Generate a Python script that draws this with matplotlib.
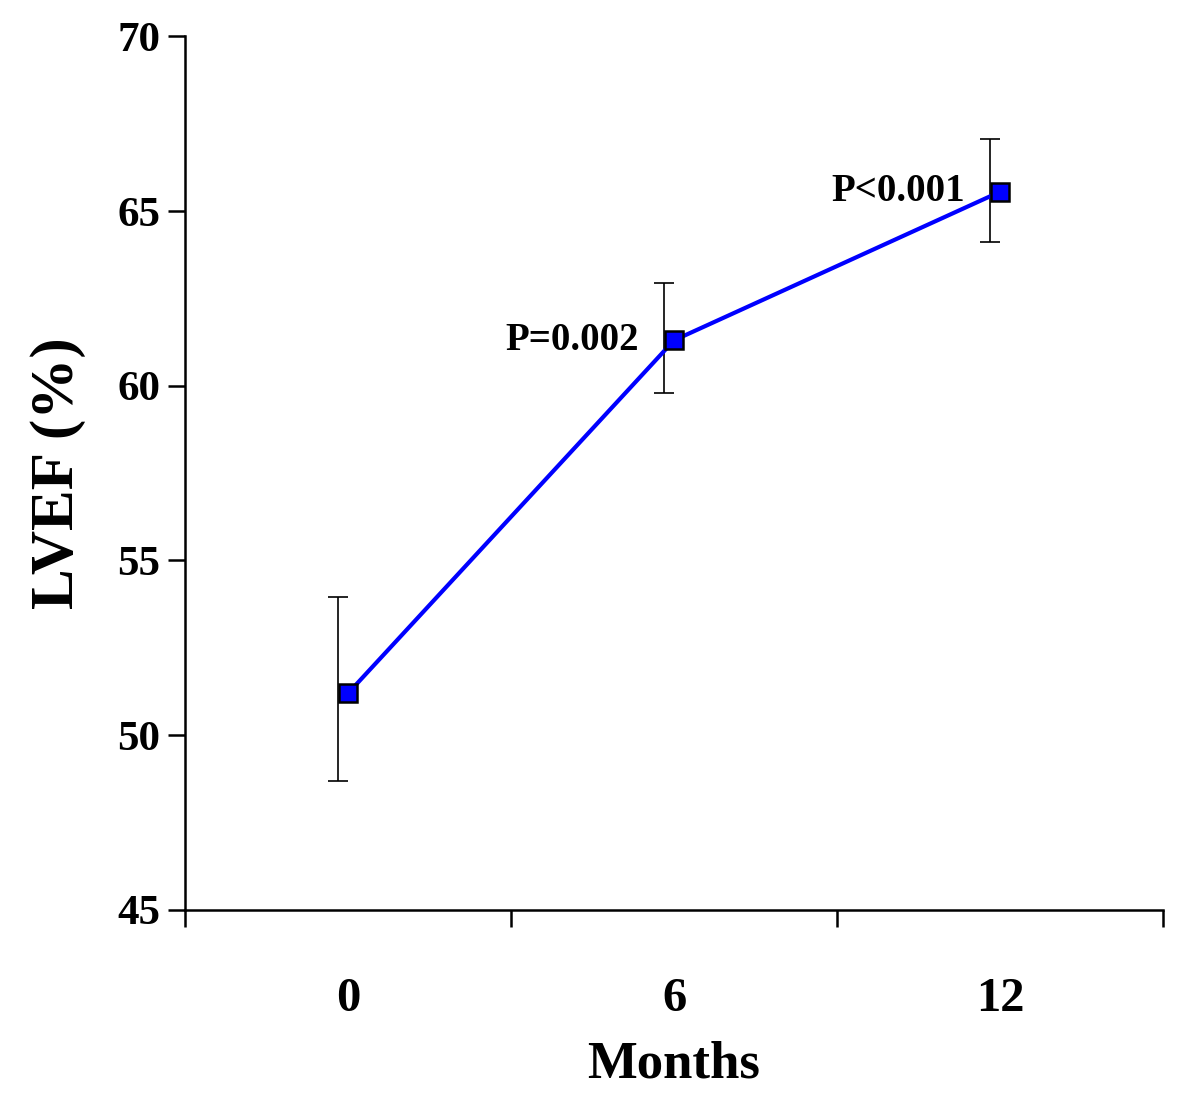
import numpy as np
import matplotlib.pyplot as plt

# LVEF over follow-up
months = ['0', '6', '12']
lvef = [51.2, 61.3, 65.55]
err_lo = [2.5, 1.5, 1.45]
err_hi = [2.75, 1.65, 1.5]
p_labels = ['', 'P=0.002', 'P<0.001']

plt.rcParams['font.family'] = ['Liberation Serif', 'DejaVu Serif']
plt.rcParams['font.weight'] = 'bold'

fig = plt.figure(figsize=(12, 10.99), dpi=100)
ax = fig.add_axes([0.1542, 0.172, 0.815, 0.795])

x = np.arange(len(months))
ax.errorbar(x - 0.03, lvef, yerr=[err_lo, err_hi], fmt='none', ecolor='black',
            elinewidth=1.2, capsize=7, capthick=1.2, zorder=2)
ax.plot(x, lvef, color='#0000ff', lw=3, marker='s', ms=13,
        markerfacecolor='#0000ff', markeredgecolor='black', markeredgewidth=1.8, zorder=3)

for xi, yi, lab in zip(x, lvef, p_labels):
    if lab:
        ax.annotate(lab, (xi, yi), xytext=(-25, 0), textcoords='offset points',
                    ha='right', va='center', fontsize=28, fontweight='bold')

ax.set_xlim(-0.5, 2.5)
ax.set_ylim(45, 70)
ax.set_yticks(np.arange(45, 71, 5))
ax.set_xticks(x)
ax.set_xticklabels(months)
ax.set_xticks(np.arange(-0.5, 2.6, 1), minor=True)
ax.tick_params(axis='x', which='major', length=0, pad=48, labelsize=35)
ax.tick_params(axis='x', which='minor', length=12, width=1.8, direction='out')
ax.tick_params(axis='y', length=12, width=1.8, direction='out', labelsize=31, pad=6)

for s in ['top', 'right']:
    ax.spines[s].set_visible(False)
for s in ['left', 'bottom']:
    ax.spines[s].set_linewidth(1.8)

ax.set_xlabel('Months', fontsize=38, fontweight='bold', labelpad=14)
ax.set_ylabel('LVEF (%)', fontsize=44, fontweight='bold', labelpad=22)

plt.savefig('out.png', dpi=100)
